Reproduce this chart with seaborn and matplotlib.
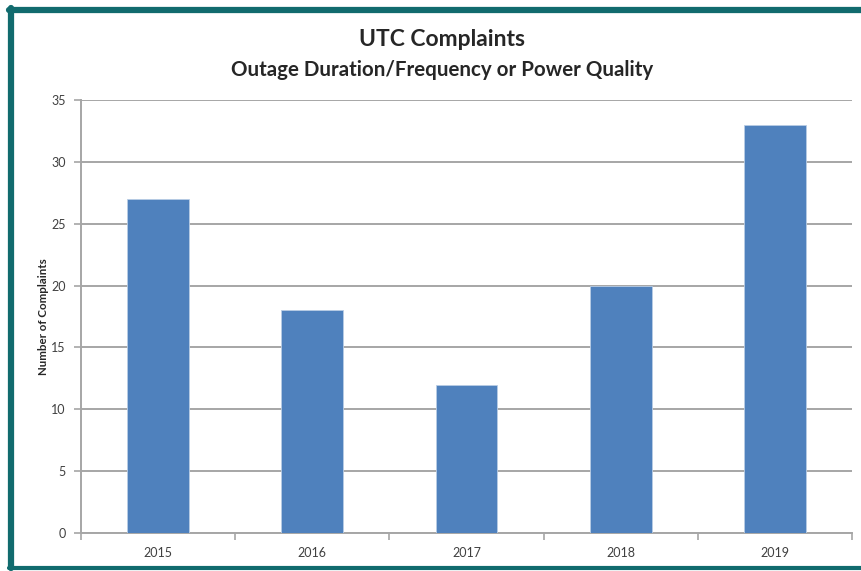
import matplotlib
matplotlib.use('Agg')
import matplotlib.pyplot as plt
import seaborn as sns
import pandas as pd
from matplotlib.lines import Line2D

years = ['2015', '2016', '2017', '2018', '2019']
complaints = [27, 18, 12, 20, 33]

df = pd.DataFrame({'Year': years, 'Complaints': complaints})

sns.set_style('white')
plt.rcParams['font.family'] = ['Lato', 'DejaVu Sans']

fig = plt.figure(figsize=(8.62, 5.71), dpi=100)
ax = fig.add_axes([81 / 862, 1 - 533 / 571, (852 - 81) / 862, (533 - 100) / 571])

sns.barplot(data=df, x='Year', y='Complaints', color='#4f81bd', saturation=1,
            width=0.4, edgecolor='#b9cde5', linewidth=0.6, ax=ax, zorder=3)

ax.set_ylim(0, 35)
ax.set_yticks(range(0, 36, 5))
ax.set_xlim(-0.5, 4.5)
ax.yaxis.grid(True, color='#a6a6a6', linewidth=1.4, zorder=0)
ax.set_axisbelow(True)

for s in ['top', 'right']:
    ax.spines[s].set_visible(False)
for s in ['left', 'bottom']:
    ax.spines[s].set_color('#a6a6a6')
    ax.spines[s].set_linewidth(1.4)

ax.set_xticks([i - 0.5 for i in range(6)], minor=True)
ax.tick_params(axis='x', which='major', length=0, pad=10, labelsize=9, labelcolor='#404040')
ax.tick_params(axis='x', which='minor', length=5, color='#a6a6a6', width=1.2, direction='out', bottom=True)
ax.tick_params(axis='y', length=5, color='#a6a6a6', width=1.2, direction='out', left=True,
               labelsize=9, labelcolor='#404040', pad=6)

ax.set_xlabel('')
ax.set_ylabel('Number of Complaints', fontsize=8.3, fontweight='bold')
ax.yaxis.set_label_coords(-32 / 771, 0.5)

fig.text(0.513, 1 - 40 / 571, 'UTC Complaints', ha='center', va='center',
         fontsize=16.5, fontweight='bold')
fig.text(0.513, 1 - 70 / 571, 'Outage Duration/Frequency or Power Quality', ha='center',
         va='center', fontsize=14.8, fontweight='bold')

teal = '#116b6e'
fig.add_artist(Line2D([11 / 862, 11 / 862], [0.005, 1 - 8 / 571], color=teal, linewidth=4.5,
                      transform=fig.transFigure))
fig.add_artist(Line2D([9 / 862, 1], [1 - 10 / 571, 1 - 10 / 571], color=teal, linewidth=4.5,
                      transform=fig.transFigure))
fig.add_artist(Line2D([9 / 862, 1], [3 / 571, 3 / 571], color=teal, linewidth=3,
                      transform=fig.transFigure))

fig.savefig('out.png', dpi=100)
